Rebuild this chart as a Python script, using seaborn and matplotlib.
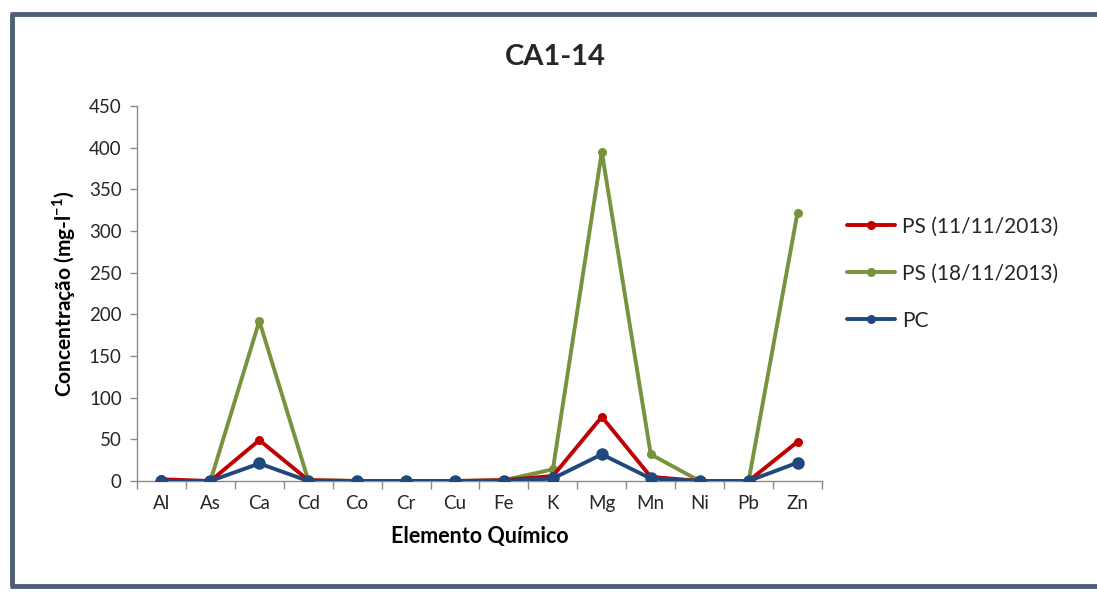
import numpy as np
import pandas as pd
import matplotlib
matplotlib.use("Agg")
import matplotlib.pyplot as plt
from matplotlib.lines import Line2D
import seaborn as sns

elements = ["Al", "As", "Ca", "Cd", "Co", "Cr", "Cu", "Fe", "K", "Mg", "Mn", "Ni", "Pb", "Zn"]
ps_11 = [2, 0, 49, 1, 0, 0, 0, 1, 6, 77, 5, 0, 0, 47]
ps_18 = [0, 0, 192, 1, 0, 0, 0, 1, 14, 395, 32, 0, 0, 322]
pc = [0, 0, 21, 0, 0, 0, 0, 0, 3, 32, 3, 0, 0, 22]
series_names = ["PS (11/11/2013)", "PS (18/11/2013)", "PC"]
y_ticks = [0, 50, 100, 150, 200, 250, 300, 350, 400, 450]

sns.set_theme(style="white")
plt.rcParams["font.family"] = ["Lato", "DejaVu Sans"]

fig = plt.figure(figsize=(10.97, 5.92), dpi=100)
ax = fig.add_axes([0.1249, 0.1875, 0.6244, 0.6335])

x = np.arange(len(elements))
styles = [
    (ps_11, "#C00000", 6.5, 3),
    (ps_18, "#77933C", 6.5, 2),
    (pc, "#1F497D", 9, 4),
]
for (vals, color, ms, z), name in zip(styles, series_names):
    sns.lineplot(x=x, y=vals, ax=ax, color=color, marker="o", markersize=ms,
                 markeredgewidth=0, linewidth=2.8, zorder=z, label=name, legend=False)

ax.set_xlim(-0.5, len(elements) - 0.5)
ax.set_ylim(0, 450)
ax.set_yticks(y_ticks)
ax.set_xticks(x)
ax.set_xticklabels(elements)
ax.set_xticks(np.arange(-0.5, len(elements)), minor=True)
ax.tick_params(axis="x", which="major", length=0, pad=10, labelsize=13.5, colors="#262626")
ax.tick_params(axis="x", which="minor", length=6, width=1, color="#8C8C8C", direction="out", bottom=True)
ax.tick_params(axis="y", length=5, width=1, color="#8C8C8C", direction="out", left=True,
               pad=6, labelsize=13.5, labelcolor="#262626")

for side in ["top", "right"]:
    ax.spines[side].set_visible(False)
for side in ["left", "bottom"]:
    ax.spines[side].set_color("#8C8C8C")
    ax.spines[side].set_linewidth(1)

ax.set_xlabel("Elemento Químico", fontsize=15.5, fontweight="bold", labelpad=10, color="black")
ax.set_ylabel("Concentração (mg-l$^{\\mathregular{-1}}$)", fontsize=15, fontweight="bold",
              labelpad=8, color="black")

fig.text(0.506, 0.903, "CA1-14", ha="center", va="center", fontsize=21, fontweight="bold")

handles = [Line2D([], [], color=c, marker="o", markersize=6.5, markeredgewidth=0, linewidth=2.8)
           for c in ["#C00000", "#77933C", "#1F497D"]]
fig.legend(handles, series_names, loc="center left", bbox_to_anchor=(0.755, 0.538),
           frameon=False, fontsize=15, handlelength=2.3, handletextpad=0.35, labelspacing=1.3)

# outer frame around the chart area
frame_color = "#4F5F76"
fig.add_artist(Line2D([0.0110, 0.0110], [0.010, 0.976], transform=fig.transFigure,
                      color=frame_color, linewidth=3.5, solid_capstyle="butt"))
fig.add_artist(Line2D([0.0095, 1.0], [0.976, 0.976], transform=fig.transFigure,
                      color=frame_color, linewidth=3.5, solid_capstyle="butt"))
fig.add_artist(Line2D([0.0095, 1.0], [0.010, 0.010], transform=fig.transFigure,
                      color=frame_color, linewidth=3.5, solid_capstyle="butt"))

fig.savefig("out.png", dpi=100, facecolor="white")
